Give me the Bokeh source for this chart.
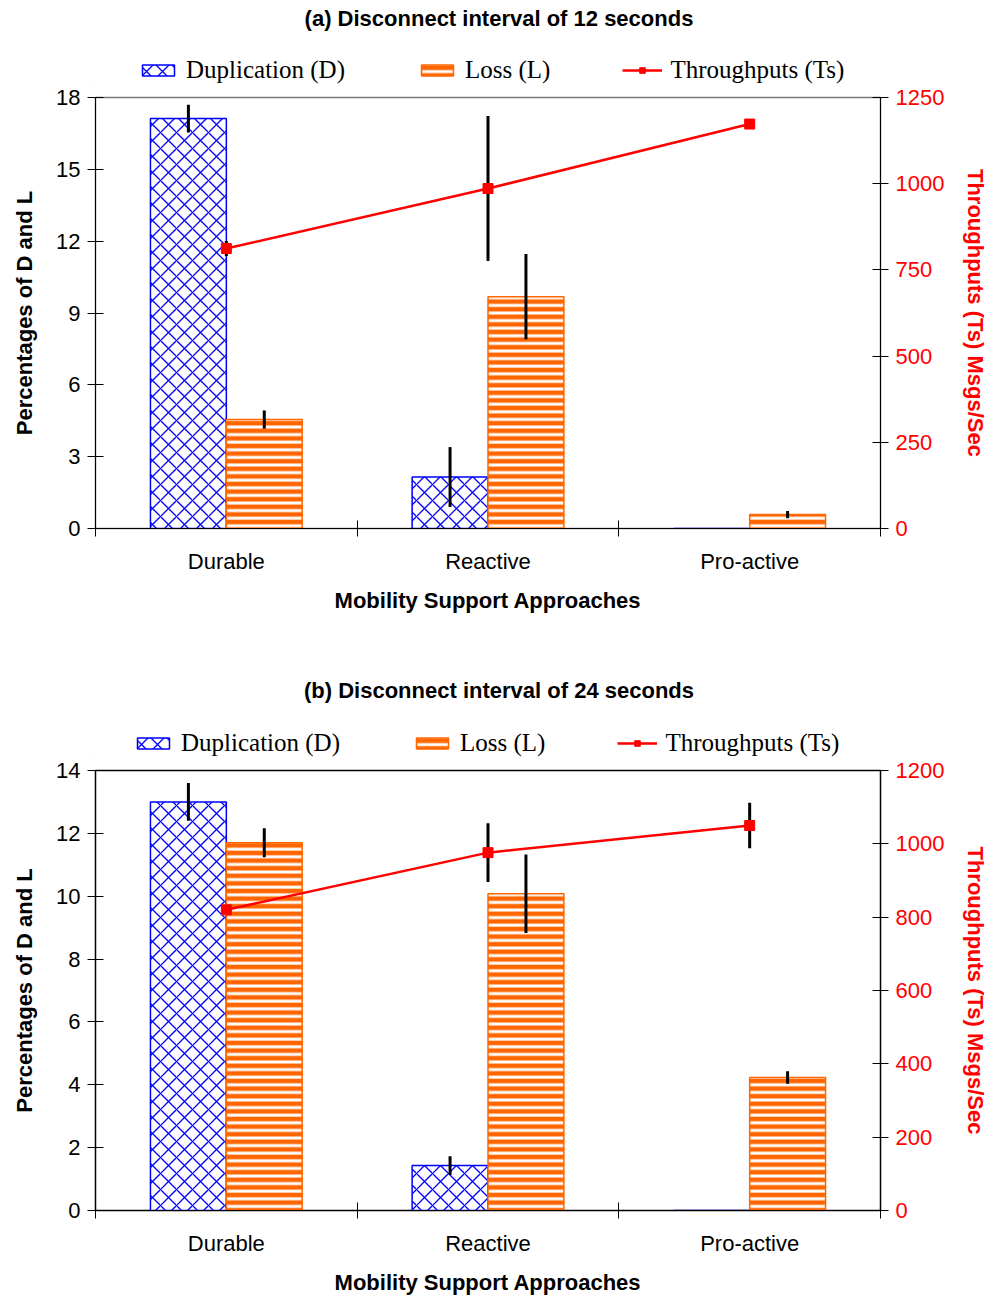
import numpy as np
from bokeh.plotting import figure
from bokeh.models import (Range1d, LinearAxis, FixedTicker, Legend, LegendItem,
                          ColumnDataSource, Label)
from bokeh.layouts import column
from bokeh.embed import file_html
from bokeh.resources import INLINE

# ---- data -------------------------------------------------------------
categories = ["Durable", "Reactive", "Pro-active"]

# (a) disconnect interval of 12 seconds
dup_a = [17.12, 2.15, 0.0]
dup_err_a = [0.58, 1.25, 0.0]
loss_a = [4.55, 9.68, 0.58]
loss_err_a = [0.38, 1.78, 0.15]
ts_a = [812, 986, 1173]
ts_err_a = [22, 210, 12]

# (b) disconnect interval of 24 seconds
dup_b = [13.0, 1.43, 0.0]
dup_err_b = [0.6, 0.3, 0.0]
loss_b = [11.7, 10.08, 4.23]
loss_err_b = [0.46, 1.25, 0.2]
ts_b = [820, 976, 1050]
ts_err_b = [0, 80, 62]

BLUE = "#0000FF"
ORANGE = "#FF6600"
RED = "#FF0000"
SANS = "Liberation Sans"
SERIF = "Liberation Serif"

W = 995
LEFT, RIGHT = 95, 115  # shared frame borders of all stacked figures

DUP_STYLE = dict(fill_color="white", line_color=BLUE, line_width=1.5,
                 hatch_pattern="diagonal_cross", hatch_color=BLUE,
                 hatch_scale=16, hatch_weight=1.3)
LOSS_STYLE = dict(fill_color="white", line_color=ORANGE, line_width=1.5,
                  hatch_pattern="horizontal_line", hatch_color=ORANGE,
                  hatch_scale=7.6, hatch_weight=4.6)
LINE_STYLE = dict(line_color=RED, line_width=2.5)
MARK_STYLE = dict(marker="square", size=10, fill_color=RED, line_color=RED)


def make_header(title, height, legend_x):
    """Title and legend strip that sits on top of each chart."""
    frame_w = W - LEFT - RIGHT
    h = figure(width=W, height=height, x_range=Range1d(0, frame_w),
               y_range=Range1d(0, height), x_axis_type=None, y_axis_type=None,
               output_backend="svg", toolbar_location=None,
               min_border_left=LEFT, min_border_right=RIGHT,
               min_border_top=0, min_border_bottom=0)
    h.outline_line_color = None
    h.xgrid.visible = False
    h.ygrid.visible = False

    h.add_layout(Label(x=W / 2 + 1 - LEFT, y=height - 18, text=title,
                       text_align="center", text_baseline="middle",
                       text_font=SANS, text_font_size="22px",
                       text_font_style="bold", text_color="black"))

    # key swatches only: their single points lie left of the visible range
    r_dup = h.vbar(x=[-50], top=[0], width=1, **DUP_STYLE)
    r_loss = h.vbar(x=[-50], top=[0], width=1, **LOSS_STYLE)
    r_line = h.line(x=[-60, -50], y=[0, 0], **LINE_STYLE)
    r_mark = h.scatter(x=[-50], y=[0], **MARK_STYLE)

    legend = Legend(items=[
        LegendItem(label="Duplication (D)", renderers=[r_dup]),
        LegendItem(label="Loss (L)", renderers=[r_loss]),
        LegendItem(label="Throughputs (Ts)", renderers=[r_line, r_mark]),
    ], orientation="horizontal", location=(legend_x, 0))
    legend.label_text_font = SERIF
    legend.label_text_font_size = "25px"
    legend.label_text_color = "black"
    legend.glyph_width = 40
    legend.glyph_height = 14
    legend.label_standoff = 8
    legend.spacing = 72
    legend.padding = 0
    legend.margin = 0
    legend.border_line_color = None
    legend.background_fill_alpha = 0
    h.add_layout(legend)
    return h


def make_chart(dup, dup_err, loss, loss_err, ts, ts_err,
               y_max, y_step, ts_max, ts_step, height, bottom, outline_color):
    p = figure(width=W, height=height,
               x_range=Range1d(0, 3), y_range=Range1d(0, y_max),
               output_backend="svg", toolbar_location=None,
               min_border_left=LEFT, min_border_right=RIGHT,
               min_border_top=13, min_border_bottom=bottom)
    p.outline_line_color = outline_color
    p.outline_line_width = 1.5
    p.xgrid.visible = False
    p.ygrid.visible = False

    centers = np.arange(len(categories)) + 0.5
    bw = 0.29
    src = ColumnDataSource(dict(
        xd=centers - bw / 2, xl=centers + bw / 2, xc=centers,
        dup=dup, loss=loss, ts=ts,
        dlo=np.array(dup) - np.array(dup_err), dhi=np.array(dup) + np.array(dup_err),
        llo=np.array(loss) - np.array(loss_err), lhi=np.array(loss) + np.array(loss_err),
        tlo=np.array(ts) - np.array(ts_err), thi=np.array(ts) + np.array(ts_err),
    ))

    p.vbar(x="xd", top="dup", width=bw, source=src, **DUP_STYLE)
    p.vbar(x="xl", top="loss", width=bw, source=src, **LOSS_STYLE)
    p.segment(x0="xd", x1="xd", y0="dlo", y1="dhi", source=src,
              line_color="black", line_width=3)
    p.segment(x0="xl", x1="xl", y0="llo", y1="lhi", source=src,
              line_color="black", line_width=3)

    # throughput on the secondary axis
    p.extra_y_ranges = {"ts": Range1d(0, ts_max)}
    p.line(x="xc", y="ts", source=src, y_range_name="ts", **LINE_STYLE)
    p.segment(x0="xc", x1="xc", y0="tlo", y1="thi", source=src, y_range_name="ts",
              line_color="black", line_width=3)
    p.scatter(x="xc", y="ts", source=src, y_range_name="ts", **MARK_STYLE)

    # axes
    xa = p.xaxis[0]
    xa.ticker = FixedTicker(ticks=list(centers), minor_ticks=[0, 1, 2, 3])
    xa.major_label_overrides = {float(c): n for c, n in zip(centers, categories)}
    xa.major_tick_line_color = None
    xa.minor_tick_in = 8
    xa.minor_tick_out = 8
    xa.minor_tick_line_color = "black"
    xa.major_label_text_font = SANS
    xa.major_label_text_font_size = "22px"
    xa.major_label_text_color = "black"
    xa.major_label_standoff = 12
    xa.axis_label = "Mobility Support Approaches"
    xa.axis_label_text_font = SANS
    xa.axis_label_text_font_size = "22px"
    xa.axis_label_text_font_style = "bold"
    xa.axis_label_text_color = "black"
    xa.axis_label_standoff = 11
    xa.axis_line_color = "black"

    ya = p.yaxis[0]
    ya.ticker = FixedTicker(ticks=list(np.arange(0, y_max + 0.01, y_step)))
    ya.minor_tick_line_color = None
    ya.major_tick_in = 8
    ya.major_tick_out = 8
    ya.major_label_text_font = SANS
    ya.major_label_text_font_size = "22px"
    ya.major_label_text_color = "black"
    ya.major_label_standoff = 7
    ya.axis_label = "Percentages of D and L"
    ya.axis_label_text_font = SANS
    ya.axis_label_text_font_size = "22px"
    ya.axis_label_text_font_style = "bold"
    ya.axis_label_text_color = "black"
    ya.axis_label_standoff = 16

    ra = LinearAxis(y_range_name="ts",
                    ticker=FixedTicker(ticks=list(np.arange(0, ts_max + 1, ts_step))),
                    axis_label="Throughputs (Ts) Msgs/Sec")
    ra.minor_tick_line_color = None
    ra.major_tick_in = 8
    ra.major_tick_out = 8
    ra.major_label_text_font = SANS
    ra.major_label_text_font_size = "22px"
    ra.major_label_text_color = RED
    ra.major_label_standoff = 7
    ra.axis_label_text_font = SANS
    ra.axis_label_text_font_size = "22px"
    ra.axis_label_text_font_style = "bold"
    ra.axis_label_text_color = RED
    ra.axis_label_standoff = 16
    p.add_layout(ra, "right")
    return p


ha = make_header("(a) Disconnect interval of 12 seconds", 84, 138 - LEFT)
pa = make_chart(dup_a, dup_err_a, loss_a, loss_err_a, ts_a, ts_err_a,
                18, 3, 1250, 250, height=588, bottom=144, outline_color="#777777")
hb = make_header("(b) Disconnect interval of 24 seconds", 85, 133 - LEFT)
pb = make_chart(dup_b, dup_err_b, loss_b, loss_err_b, ts_b, ts_err_b,
                14, 2, 1200, 200, height=542, bottom=89, outline_color="black")

layout = column(ha, pa, hb, pb, spacing=0)
open("out.html", "w").write(file_html(layout, INLINE))
